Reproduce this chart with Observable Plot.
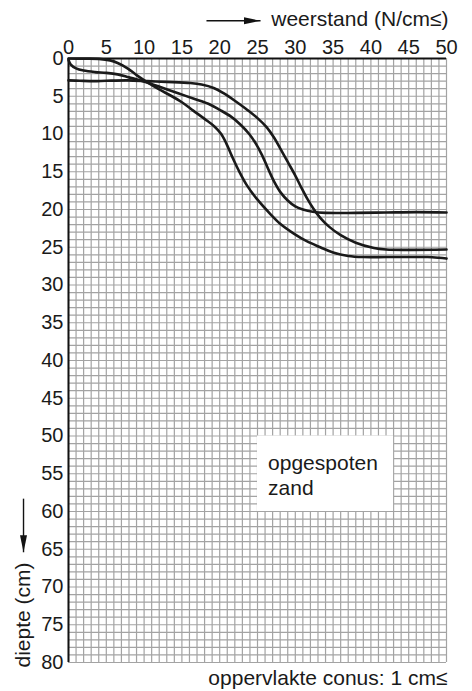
<!DOCTYPE html>
<html><head><meta charset="utf-8">
<script src="https://cdn.jsdelivr.net/npm/d3@7"></script>
<script src="https://cdn.jsdelivr.net/npm/@observablehq/plot@0.6"></script>
<style>body{margin:0;background:#fff}#chart svg{display:block;background:#fff}</style>
</head><body><div id="chart"></div>
<script>
// ---- data (weerstand N/cm², diepte cm) ----
const curveA = [[0,0],[2,0.02],[4,0.05],[5.5,0.25],[6.5,0.6],[7.8,1.3],[9,2.2],[10.5,3.2],[12,4.1],[13.5,4.9],[15,5.8],[16.5,6.9],[18,8.0],[19.3,9.0],[20.2,10.0],[20.9,11.3],[21.6,12.9],[22.5,14.8],[23.6,16.8],[25,18.7],[26.7,20.6],[28,21.9],[29.8,23.2],[31.5,24.2],[33.3,25.0],[35,25.7],[37,26.15],[39,26.3],[42,26.3],[45,26.3],[47.5,26.3],[49,26.4],[50,26.5]];
const curveB = [[0,0.2],[0.3,0.8],[1,1.3],[2,1.6],[3.5,1.8],[5,1.9],[6.5,2.1],[8,2.5],[9.5,2.9],[10.8,3.3],[12.5,3.9],[14.5,4.6],[16.5,5.3],[18.5,6.0],[20,6.8],[21.5,7.7],[22.8,8.8],[23.9,10.0],[24.8,11.3],[25.6,12.8],[26.4,14.6],[27.2,16.3],[28.1,17.8],[29,18.8],[30,19.6],[31,20.0],[32.3,20.3],[34,20.45],[38,20.45],[42,20.4],[46,20.35],[50,20.4]];
const curveC = [[0,2.9],[1.5,2.95],[3.3,3.0],[5,2.95],[7.8,2.9],[10.5,3.0],[13,3.1],[16.1,3.25],[17.6,3.45],[19.2,3.9],[20.5,4.6],[22,5.6],[23.5,6.7],[25,7.9],[26.2,9.1],[27.2,10.5],[28,11.9],[29,13.7],[30,15.5],[30.8,17.1],[31.6,18.6],[32.4,19.9],[33.3,21.1],[34.5,22.3],[36,23.4],[38,24.4],[40.4,25.1],[42,25.3],[45,25.35],[50,25.3]];
const seriesNames = ["A","B","C"];
const weerstandTicks = [0,5,10,15,20,25,30,35,40,45,50];
const diepteTicks = [0,5,10,15,20,25,30,35,40,45,50,55,60,65,70,75,80];
const titleText = "weerstand (N/cm≤)";
const yLabelText = "diepte (cm)";
const captionText = "oppervlakte conus: 1 cm≤";
const boxText = "opgespoten\nzand";
const boxExtent = [25, 43, 50, 60];           // x1, x2, y1, y2
const xArrow = [18.25, 25.4, -5.0];           // x1, x2, y
const yArrow = [-5.95, 58.3, 65.4];           // x, y1, y2

const rows = [curveA, curveB, curveC].flatMap((c, i) => c.map(([w, d]) => ({s: seriesNames[i], w, d})));
const gridX = d3.range(0, 51);
const gridY = d3.range(0, 81);
const font = "'Liberation Sans', Arial, Helvetica, sans-serif";
const arrowColor = "#121212";

const plot = Plot.plot({
  width: 472, height: 691,
  marginLeft: 68, marginRight: 26, marginTop: 58, marginBottom: 29,
  style: {fontFamily: font, fontSize: "20px", color: "#1a1a1a", background: "#fff"},
  x: {domain: [0, 50], axis: "top", ticks: weerstandTicks, tickSize: 0, tickPadding: 5, label: null},
  y: {domain: [0, 80], reverse: true, ticks: diepteTicks, tickSize: 0, tickPadding: 5, label: null, tickFormat: d => d},
  marks: [
    Plot.ruleX(gridX, {stroke: "#a3a3a3", strokeWidth: 1.2}),
    Plot.ruleY(gridY, {stroke: "#a3a3a3", strokeWidth: 1.2}),
    Plot.rect([boxExtent], {x1: d => d[0], x2: d => d[1], y1: d => d[2], y2: d => d[3], fill: "#fff"}),
    Plot.ruleX([0], {stroke: "#111", strokeWidth: 2}),
    Plot.ruleY([0], {stroke: "#111", strokeWidth: 2}),
    Plot.line(rows, {x: "w", y: "d", z: "s", curve: "catmull-rom", stroke: "#1a1a1a", strokeWidth: 2.6}),
    Plot.text([boxText], {x: boxExtent[0] + 1.4, y: boxExtent[2] + 2.2, text: d => d, textAnchor: "start", lineAnchor: "top", lineHeight: 1.19, fontSize: 21, fill: "#1a1a1a"}),
    Plot.text([titleText], {frameAnchor: "top-right", text: d => d, textAnchor: "end", lineAnchor: "bottom", dx: 2, dy: -33, fontSize: 21, fill: "#1a1a1a"}),
    Plot.text([captionText], {frameAnchor: "bottom-right", text: d => d, textAnchor: "end", lineAnchor: "bottom", dx: 1, dy: 22, fontSize: 21, fill: "#1a1a1a"}),
    Plot.text([yLabelText], {x: yArrow[0], y: 80.66, text: d => d, rotate: -90, textAnchor: "start", lineAnchor: "middle", fontSize: 21, fill: "#1a1a1a"}),
    Plot.link([xArrow], {x1: d => d[0], x2: d => d[1], y1: d => d[2], y2: d => d[2], stroke: arrowColor, strokeWidth: 1.4}),
    Plot.link([yArrow], {x1: d => d[0], x2: d => d[0], y1: d => d[1], y2: d => d[2], stroke: arrowColor, strokeWidth: 1.4})
  ]
});

// filled arrowheads for the two axis arrows
const svgNode = plot.tagName.toLowerCase() === "svg" ? plot : plot.querySelector("svg");
const svg = d3.select(svgNode);
svg.append("defs").append("marker")
  .attr("id", "pijlkop").attr("viewBox", "0 -4 17 8")
  .attr("markerWidth", 17).attr("markerHeight", 8)
  .attr("refX", 17).attr("refY", 0).attr("orient", "auto")
  .attr("markerUnits", "userSpaceOnUse")
  .append("path").attr("d", "M0,-3.5L17,0L0,3.5Z").attr("fill", arrowColor);
svg.selectAll("*").filter(function() { return this.getAttribute("stroke") === arrowColor; })
  .each(function() {
    d3.select(this).attr("marker-end", "url(#pijlkop)");
    d3.select(this).selectAll("path, line").attr("marker-end", "url(#pijlkop)");
  });

document.getElementById("chart").append(plot);
</script></body></html>
